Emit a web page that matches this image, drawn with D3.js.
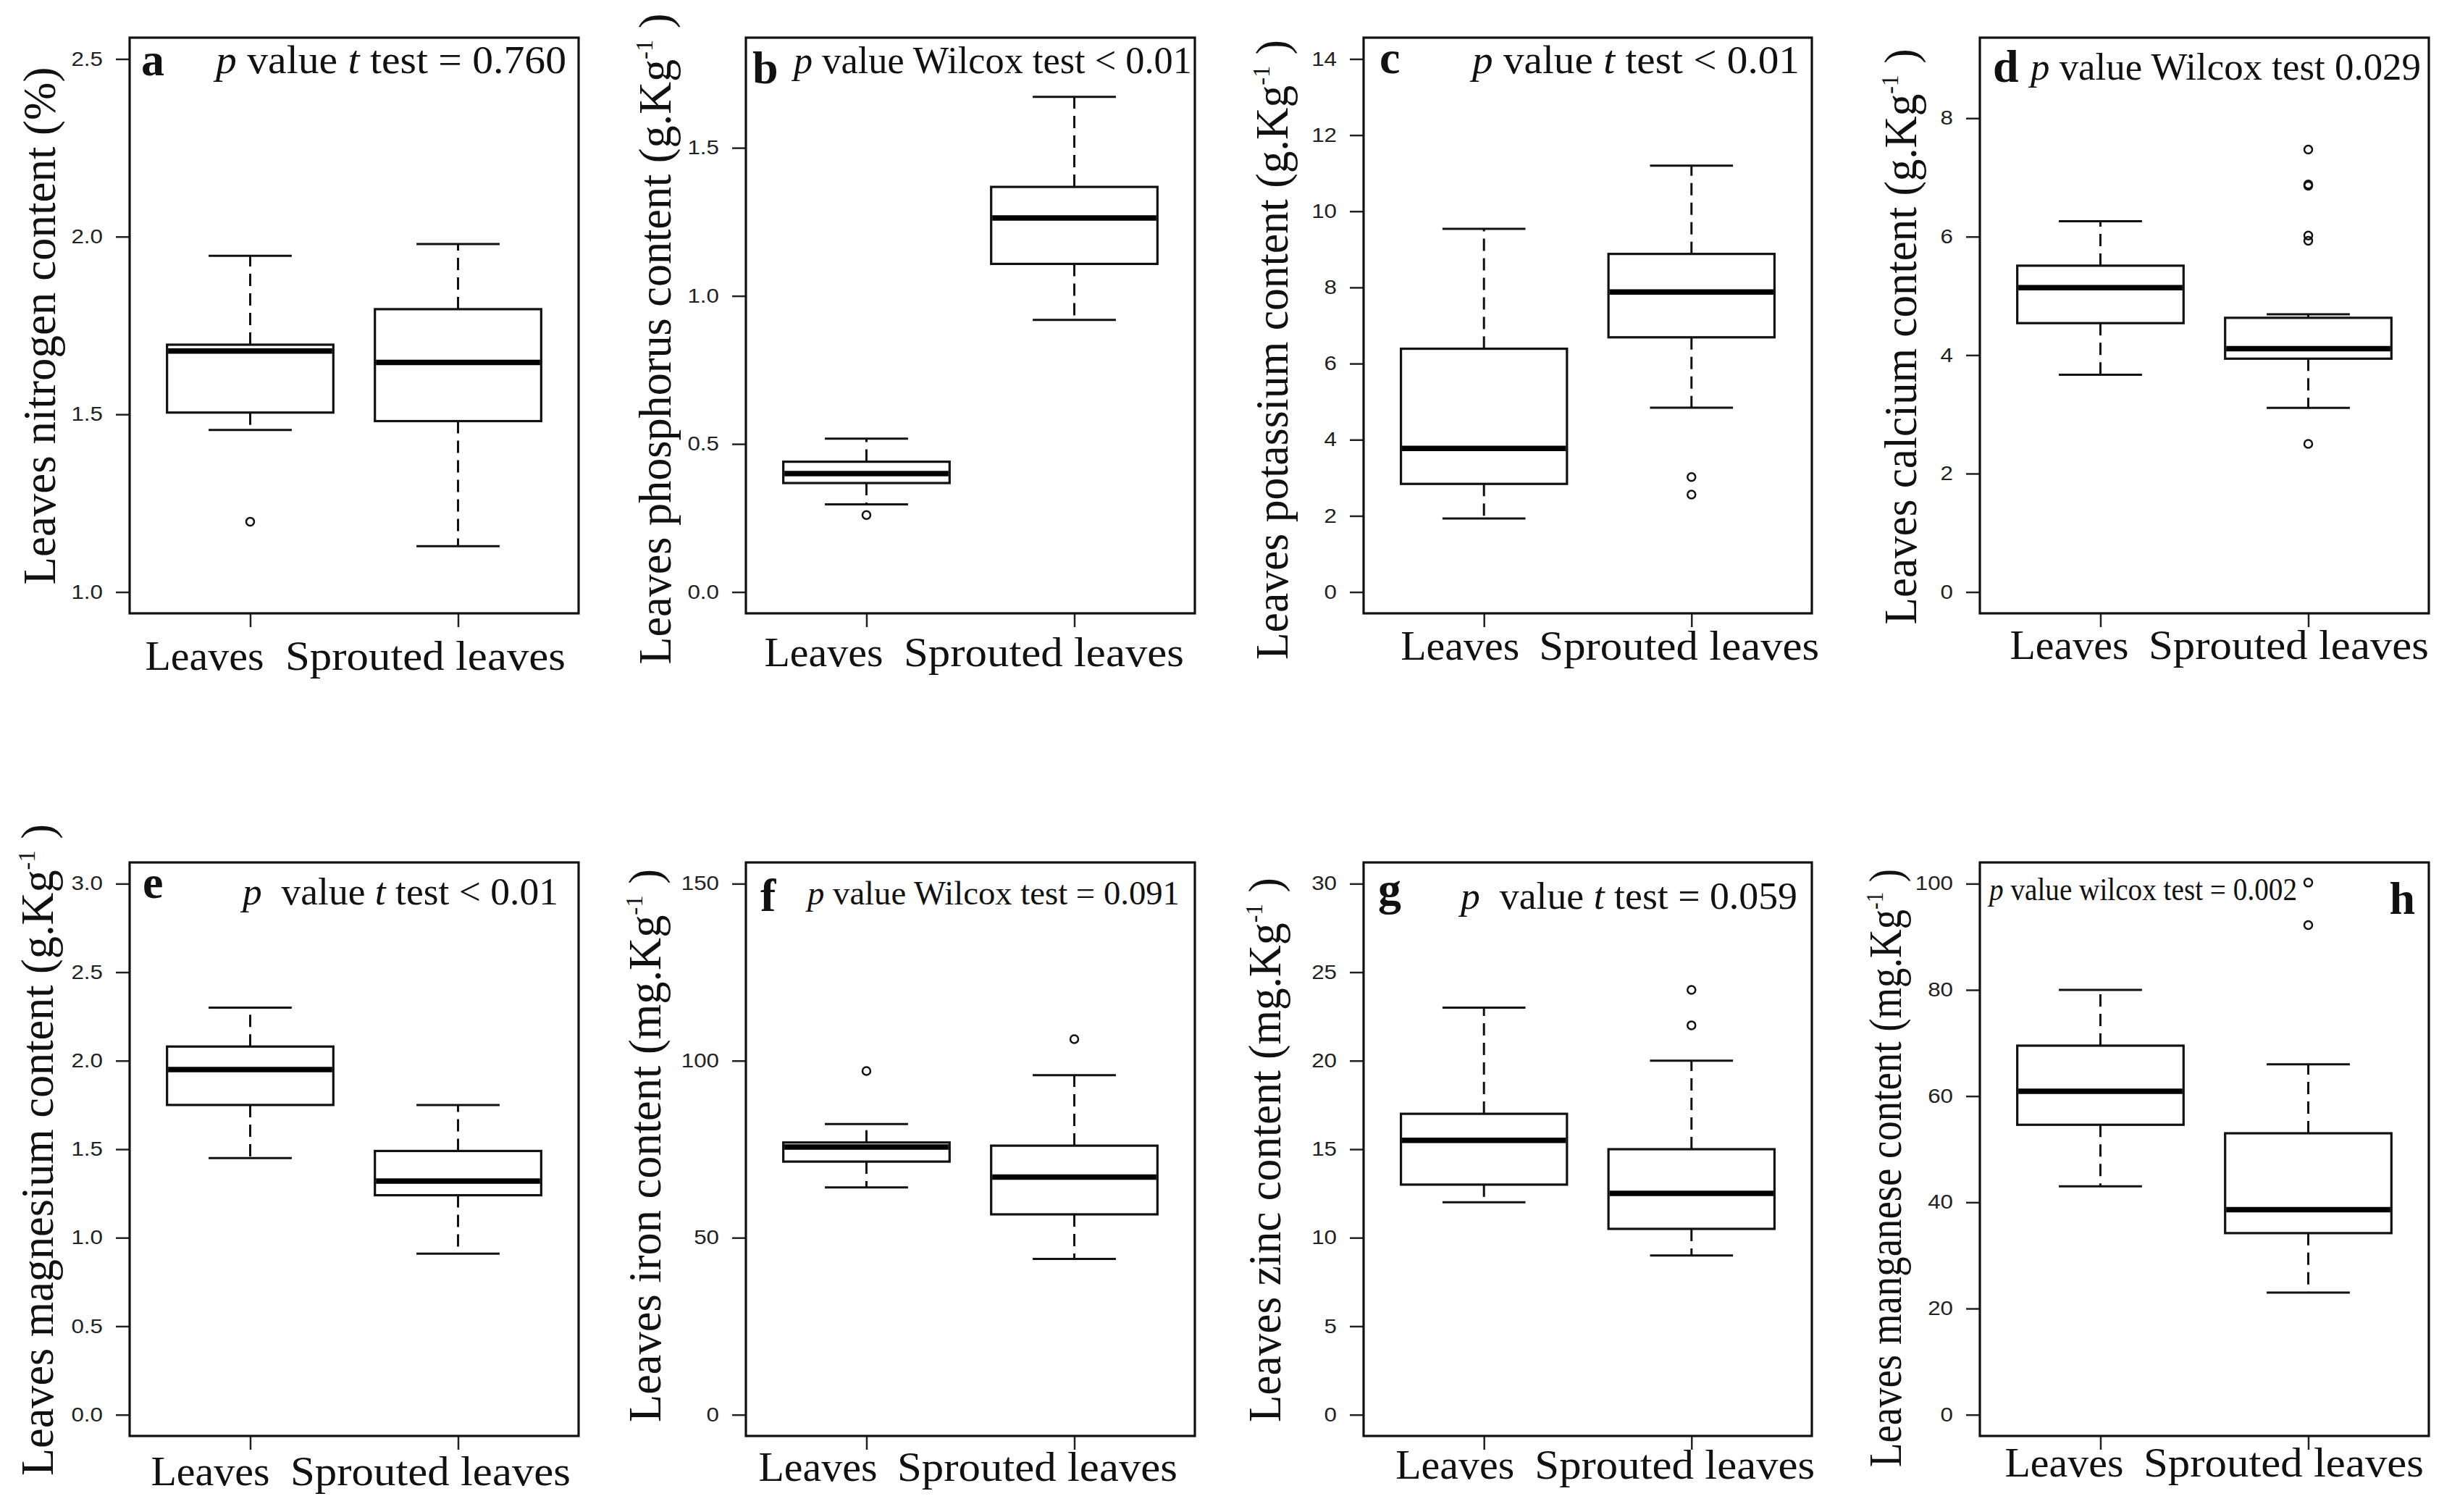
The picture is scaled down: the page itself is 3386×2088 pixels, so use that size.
<!DOCTYPE html>
<html>
<head>
<meta charset="utf-8">
<script src="https://cdn.jsdelivr.net/npm/d3@7"></script>
<style>
  body { margin: 0; background: #fff; }
  svg { display: block; }
</style>
</head>
<body>
<div id="chart"></div>
<script>
const categories = ["Leaves", "Sprouted leaves"];

// [lower whisker, Q1, median, Q3, upper whisker] for Leaves, Sprouted leaves
const nitrogenStats = [[1.456, 1.505, 1.678, 1.696, 1.946], [1.129, 1.481, 1.646, 1.796, 1.979]];
const nitrogenOutliers = [[1.198], []];
const phosphorusStats = [[0.296, 0.368, 0.400, 0.440, 0.518], [0.919, 1.108, 1.263, 1.368, 1.672]];
const phosphorusOutliers = [[0.260], []];
const potassiumStats = [[1.93, 2.84, 3.77, 6.39, 9.54], [4.84, 6.69, 7.88, 8.88, 11.20]];
const potassiumOutliers = [[], [3.02, 2.56]];
const calciumStats = [[3.67, 4.54, 5.14, 5.51, 6.26], [3.11, 3.94, 4.11, 4.63, 4.69]];
const calciumOutliers = [[], [7.47, 6.88, 6.86, 6.02, 5.93, 2.50]];
const magnesiumStats = [[1.45, 1.75, 1.95, 2.08, 2.30], [0.91, 1.24, 1.32, 1.49, 1.75]];
const magnesiumOutliers = [[], []];
const ironStats = [[64.2, 71.5, 75.6, 76.9, 82.1], [44.0, 56.6, 67.1, 76.0, 95.9]];
const ironOutliers = [[97.1], [106.1]];
const zincStats = [[12.0, 13.0, 15.5, 17.0, 23.0], [9.0, 10.5, 12.5, 15.0, 20.0]];
const zincOutliers = [[], [24.0, 22.0]];
const manganeseStats = [[43.0, 54.6, 60.9, 69.5, 80.0], [23.0, 34.2, 38.6, 53.0, 66.0]];
const manganeseOutliers = [[], [100.2, 92.2]];

// axis limits and ticks
const nitrogenLimits = [1, 2.5],   nitrogenTicks = [1.0, 1.5, 2.0, 2.5];
const phosphorusLimits = [0, 1.8], phosphorusTicks = [0.0, 0.5, 1.0, 1.5];
const potassiumLimits = [0, 14],   potassiumTicks = [0, 2, 4, 6, 8, 10, 12, 14];
const calciumLimits = [0, 9],      calciumTicks = [0, 2, 4, 6, 8];
const magnesiumLimits = [0, 3],    magnesiumTicks = [0.0, 0.5, 1.0, 1.5, 2.0, 2.5, 3.0];
const ironLimits = [0, 150],       ironTicks = [0, 50, 100, 150];
const zincLimits = [0, 30],        zincTicks = [0, 5, 10, 15, 20, 25, 30];
const manganeseLimits = [0, 100],  manganeseTicks = [0, 20, 40, 60, 80, 100];

// titles: [text, superscript, closing]
const titles = [
  ["Leaves nitrogen content (%)", "", ""],
  ["Leaves phosphorus content (g.Kg", "-1", ")"],
  ["Leaves potassium content (g.Kg", "-1", ")"],
  ["Leaves calcium content (g.Kg", "-1", ")"],
  ["Leaves magnesium content (g.Kg", "-1", ")"],
  ["Leaves iron content (mg.Kg", "-1", ")"],
  ["Leaves zinc content (mg.Kg", "-1", ")"],
  ["Leaves manganese content (mg.Kg", "-1", ")"]
];
const letters = ["a", "b", "c", "d", "e", "f", "g", "h"];
// p value labels as [text, italic] pieces
const pLabels = [
  [["p", 1], [" value ", 0], ["t", 1], [" test = 0.760", 0]],
  [["p", 1], [" value Wilcox test < 0.01", 0]],
  [["p", 1], [" value ", 0], ["t", 1], [" test < 0.01", 0]],
  [["p", 1], [" value Wilcox test 0.029", 0]],
  [["p", 1], ["  value ", 0], ["t", 1], [" test < 0.01", 0]],
  [["p", 1], [" value Wilcox test = 0.091", 0]],
  [["p", 1], ["  value ", 0], ["t", 1], [" test = 0.059", 0]],
  [["p", 1], [" value wilcox test = 0.002", 0]]
];

const panels = [
  {stats: nitrogenStats, out: nitrogenOutliers, lim: nitrogenLimits, ticks: nitrogenTicks, fmt: ".1f"},
  {stats: phosphorusStats, out: phosphorusOutliers, lim: phosphorusLimits, ticks: phosphorusTicks, fmt: ".1f"},
  {stats: potassiumStats, out: potassiumOutliers, lim: potassiumLimits, ticks: potassiumTicks, fmt: "d"},
  {stats: calciumStats, out: calciumOutliers, lim: calciumLimits, ticks: calciumTicks, fmt: "d"},
  {stats: magnesiumStats, out: magnesiumOutliers, lim: magnesiumLimits, ticks: magnesiumTicks, fmt: ".1f"},
  {stats: ironStats, out: ironOutliers, lim: ironLimits, ticks: ironTicks, fmt: "d"},
  {stats: zincStats, out: zincOutliers, lim: zincLimits, ticks: zincTicks, fmt: "d"},
  {stats: manganeseStats, out: manganeseOutliers, lim: manganeseLimits, ticks: manganeseTicks, fmt: "d"}
];

// page layout (pixels)
const cols = [[179, 799], [1030, 1650], [1883, 2502], [2734, 3354]];
const rows = [[52, 847], [1191, 1983]];
const catWidths = [164, 387];
const layout = [
  {lx: 195, ly: 104, la: "start", px: 782, py: 101, pa: "end", ps: 55, pw: 484, tx: 76, ty: 450, tw: 715, shift: [-63, -45], by: 925},
  {lx: 1039, ly: 115, la: "start", px: 1096, py: 101, pa: "start", ps: 52, pw: 550, tx: 926, ty: 468, tw: 899, shift: [-59, -42], by: 920},
  {lx: 1905, ly: 101, la: "start", px: 2485, py: 101, pa: "end", ps: 55, pw: 452, tx: 1778, ty: 483, tw: 856, shift: [-33, -17], by: 911},
  {lx: 2752, ly: 113, la: "start", px: 2804, py: 110, pa: "start", ps: 52, pw: 539, tx: 2646, ty: 465, tw: 795, shift: [-43, -27], by: 910},
  {lx: 197, ly: 1240, la: "start", px: 771, py: 1249, pa: "end", ps: 53, pw: 436, tx: 73, ty: 1588, tw: 900, shift: [-55, -38], by: 2051},
  {lx: 1050, ly: 1258, la: "start", px: 1115, py: 1249, pa: "start", ps: 47, pw: 514, tx: 912, ty: 1582, tw: 764, shift: [-67, -51], by: 2045},
  {lx: 1903, ly: 1249, la: "start", px: 2017, py: 1255, pa: "start", ps: 53, pw: 465, tx: 1768, ty: 1588, tw: 752, shift: [-40, -23], by: 2042},
  {lx: 3335, ly: 1262, la: "end", px: 2747, py: 1243, pa: "start", ps: 44, pw: 425, tx: 2625, ty: 1613, tw: 826, shift: [-50, -34], by: 2039}
];

const W = 3386, H = 2088;
const serif = "'Liberation Serif', 'Times New Roman', serif";
const sans = "'Liberation Sans', Arial, sans-serif";

const svg = d3.select("#chart").append("svg")
  .attr("width", W).attr("height", H)
  .style("background", "#fff");

panels.forEach(function(p, i) {
  const L = layout[i];
  const [left, right] = cols[i % 4];
  const [top, bottom] = rows[Math.floor(i / 4)];
  const g = svg.append("g");

  const pad = (p.lim[1] - p.lim[0]) * 0.04;
  const x = d3.scaleLinear().domain([0.42, 2.58]).range([left, right]);
  const y = d3.scaleLinear().domain([p.lim[0] - pad, p.lim[1] + pad]).range([bottom, top]);

  // y axis
  const ya = g.append("g").attr("transform", "translate(" + left + ",0)")
    .call(d3.axisLeft(y).tickValues(p.ticks).tickFormat(d3.format(p.fmt)).tickSize(19).tickPadding(18));
  ya.select(".domain").remove();
  ya.selectAll("line").attr("stroke", "#222").attr("stroke-width", 2.5);
  ya.selectAll("text").attr("fill", "#222").style("font-family", sans).style("font-size", "27px")
    .each(function() {
      const len = this.getComputedTextLength();
      d3.select(this).attr("textLength", len * 1.16).attr("lengthAdjust", "spacingAndGlyphs");
    });

  // x axis ticks
  const xa = g.append("g").attr("transform", "translate(0," + bottom + ")")
    .call(d3.axisBottom(x).tickValues([1, 2]).tickFormat("").tickSize(19));
  xa.select(".domain").remove();
  xa.selectAll("line").attr("stroke", "#222").attr("stroke-width", 2.5);

  // category labels
  g.selectAll(".cat").data(categories).enter().append("text")
    .attr("x", (d, j) => x(j + 1) + L.shift[j])
    .attr("y", L.by)
    .attr("text-anchor", "middle")
    .attr("textLength", (d, j) => catWidths[j]).attr("lengthAdjust", "spacingAndGlyphs")
    .style("font-family", serif).style("font-size", "58px").attr("fill", "#111")
    .text(d => d);

  // boxes
  const box = g.selectAll(".box").data(p.stats).enter().append("g");
  box.append("line")
    .attr("x1", (d, j) => x(j + 1)).attr("x2", (d, j) => x(j + 1))
    .attr("y1", d => y(d[3])).attr("y2", d => y(d[4]))
    .attr("stroke", "#111").attr("stroke-width", 3).attr("stroke-dasharray", "17,10");
  box.append("line")
    .attr("x1", (d, j) => x(j + 1)).attr("x2", (d, j) => x(j + 1))
    .attr("y1", d => y(d[1])).attr("y2", d => y(d[0]))
    .attr("stroke", "#111").attr("stroke-width", 3).attr("stroke-dasharray", "17,10");
  [0, 4].forEach(function(k) {
    box.append("line")
      .attr("x1", (d, j) => x(j + 0.8)).attr("x2", (d, j) => x(j + 1.2))
      .attr("y1", d => y(d[k])).attr("y2", d => y(d[k]))
      .attr("stroke", "#111").attr("stroke-width", 3);
  });
  box.append("rect")
    .attr("x", (d, j) => x(j + 0.6))
    .attr("width", (d, j) => x(j + 1.4) - x(j + 0.6))
    .attr("y", d => y(d[3]))
    .attr("height", d => y(d[1]) - y(d[3]))
    .attr("fill", "#fff").attr("stroke", "#111").attr("stroke-width", 3.2);
  box.append("line")
    .attr("x1", (d, j) => x(j + 0.6) + 1.5).attr("x2", (d, j) => x(j + 1.4) - 1.5)
    .attr("y1", d => y(d[2])).attr("y2", d => y(d[2]))
    .attr("stroke", "#000").attr("stroke-width", 7.5);

  // outliers
  p.out.forEach(function(vals, j) {
    g.selectAll(null).data(vals).enter().append("circle")
      .attr("cx", x(j + 1)).attr("cy", d => y(d)).attr("r", 5.5)
      .attr("fill", "none").attr("stroke", "#111").attr("stroke-width", 2.5);
  });

  // frame
  g.append("rect")
    .attr("x", left).attr("y", top)
    .attr("width", right - left).attr("height", bottom - top)
    .attr("fill", "none").attr("stroke", "#111").attr("stroke-width", 3.2);

  // panel letter
  g.append("text")
    .attr("x", L.lx).attr("y", L.ly).attr("text-anchor", L.la)
    .style("font-family", serif).style("font-size", "64px").style("font-weight", "bold")
    .attr("fill", "#111").text(letters[i]);

  // p value label
  const pt = g.append("text")
    .attr("x", L.px).attr("y", L.py).attr("text-anchor", L.pa)
    .attr("textLength", L.pw).attr("lengthAdjust", "spacingAndGlyphs")
    .style("font-family", serif).style("font-size", L.ps + "px")
    .style("white-space", "pre").attr("fill", "#111");
  pLabels[i].forEach(function(piece) {
    pt.append("tspan").style("font-style", piece[1] ? "italic" : "normal").text(piece[0]);
  });

  // y title
  const t = titles[i];
  const tt = g.append("text")
    .attr("transform", "translate(" + L.tx + "," + L.ty + ") rotate(-90)")
    .attr("text-anchor", "middle")
    .attr("textLength", L.tw).attr("lengthAdjust", "spacingAndGlyphs")
    .style("font-family", serif).style("font-size", "63px").attr("fill", "#111");
  tt.append("tspan").text(t[0]);
  if (t[1]) {
    tt.append("tspan").attr("dy", -25).style("font-size", "33px").text(t[1]);
    tt.append("tspan").attr("dy", 25).text(" " + t[2]);
  }
});
</script>
</body>
</html>
